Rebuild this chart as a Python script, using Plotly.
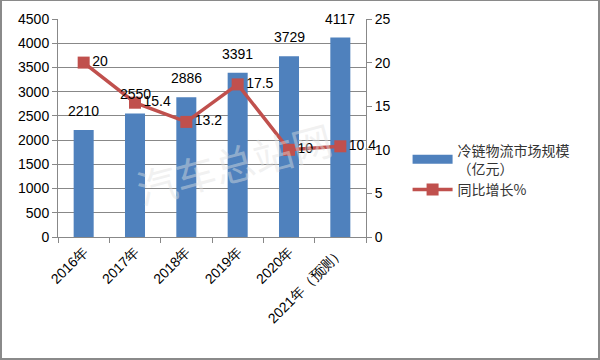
import plotly.graph_objects as go

categories = ["2016年", "2017年", "2018年", "2019年", "2020年", "2021年（预测）"]
market_size = [2210, 2550, 2886, 3391, 3729, 4117]
growth = [20, 15.4, 13.2, 17.5, 10, 10.4]
bar_name = "冷链物流市场规模<br>（亿元）"
line_name = "同比增长%"

BLUE = "#4F81BD"
RED = "#C0504D"
GRID = "#888888"
FONT = "Liberation Sans"

fig = go.Figure()
fig.add_trace(go.Bar(
    x=categories, y=market_size, name=bar_name,
    marker=dict(color=BLUE, line=dict(width=0)),
    width=0.39, yaxis="y", showlegend=False,
))
# legend proxy for the bar series (wide rectangle like the reference)
fig.add_trace(go.Scatter(
    x=[None], y=[None], name=bar_name, mode="lines",
    line=dict(color=BLUE, width=9), yaxis="y",
))
fig.add_trace(go.Scatter(
    x=categories, y=growth, name=line_name, yaxis="y2",
    mode="lines+markers+text",
    text=[f"{v:g}" for v in growth],
    textposition="middle right",
    textfont=dict(family=FONT, size=14, color="#000000"),
    line=dict(color=RED, width=3.5),
    marker=dict(symbol="square", size=12, color=RED),
    cliponaxis=False,
))

for c, v in zip(categories, market_size):
    fig.add_annotation(x=c, y=v, xref="x", yref="y", text=str(v),
                       showarrow=False, yshift=19,
                       font=dict(family=FONT, size=14, color="#000000"))

fig.add_annotation(xref="paper", yref="paper", x=0.57, y=0.08,
                   text="汽车总站网", showarrow=False, textangle=-15,
                   font=dict(family="Noto Sans CJK SC", size=40, color="rgba(225,225,225,0.45)"))

fig.update_layout(
    width=600, height=360,
    margin=dict(l=58, r=234, t=19, b=123, autoexpand=False),
    paper_bgcolor="white", plot_bgcolor="white",
    bargap=0.61,
    showlegend=True,
    legend=dict(x=1.135, y=0.47, xanchor="left", yanchor="top",
                font=dict(family="Noto Sans CJK SC", size=14, color="#333333"),
                tracegroupgap=8, itemwidth=40, bgcolor="rgba(0,0,0,0)"),
    xaxis=dict(type="category", tickangle=-45, tickson="boundaries",
               ticks="outside", ticklen=5, tickcolor=GRID, automargin=False,
               showline=True, linecolor=GRID, linewidth=1,
               showgrid=False,
               tickfont=dict(family=FONT, size=14, color="#000000")),
    yaxis=dict(range=[0, 4500], dtick=500, showgrid=True, gridcolor=GRID,
               gridwidth=1, showline=True, linecolor=GRID, ticks="outside",
               ticklen=5, tickcolor=GRID, zeroline=False, automargin=False,
               tickfont=dict(family=FONT, size=14, color="#000000")),
    yaxis2=dict(range=[0, 25], dtick=5, overlaying="y", side="right",
                showgrid=False, showline=True, linecolor=GRID, ticks="outside",
                ticklen=5, tickcolor=GRID, zeroline=False, automargin=False,
                tickfont=dict(family=FONT, size=14, color="#000000")),
)

fig.add_shape(type="rect", xref="paper", yref="paper",
              x0=-57/308, x1=(600-58-1)/308, y0=-(123-1)/218, y1=(219-1+19)/218,
              line=dict(color="#8a8a8a", width=2), fillcolor="rgba(0,0,0,0)", layer="above")

fig.write_html("out.html", config={"displayModeBar": False},
               post_script="document.body.style.margin='0';document.body.style.padding='0';")
